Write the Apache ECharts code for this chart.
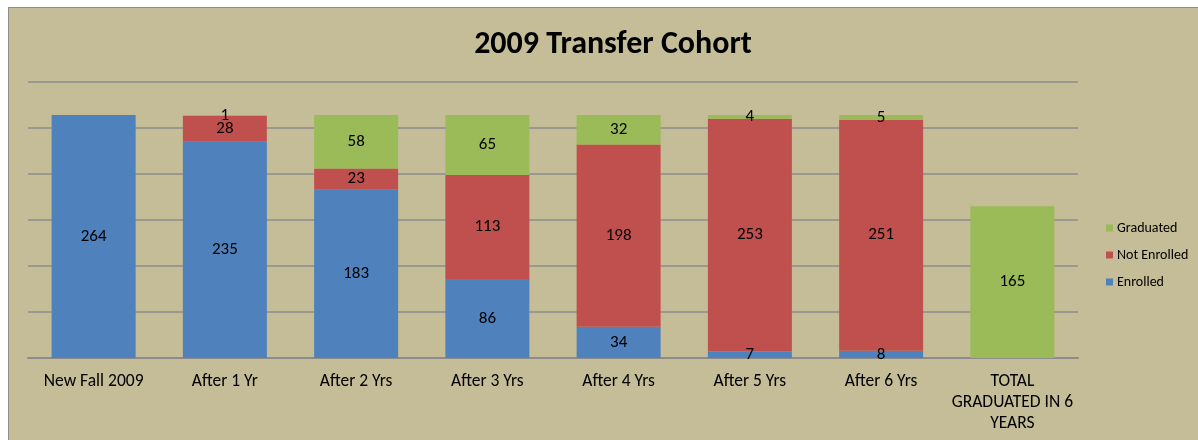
<!DOCTYPE html>
<html>
<head>
<meta charset="utf-8">
<script src="https://cdn.jsdelivr.net/npm/echarts@6/dist/echarts.min.js"></script>
<style>
  html, body { margin: 0; padding: 0; background: #ffffff; overflow: hidden; }
  #main {
    position: absolute;
    left: 8px;
    top: 7px;
    width: 1200px;
    height: 440px;
    border: 1px solid #8c8c8c;
    background: #c4bd97;
  }
</style>
</head>
<body>
<div id="main"></div>
<script>
var categories = ["New Fall 2009", "After 1 Yr", "After 2 Yrs", "After 3 Yrs", "After 4 Yrs", "After 5 Yrs", "After 6 Yrs", "TOTAL\nGRADUATED IN 6\nYEARS"];
var enrolled = [264, 235, 183, 86, 34, 7, 8, 0];
var notEnrolled = [0, 28, 23, 113, 198, 253, 251, 0];
var graduated = [0, 1, 58, 65, 32, 4, 5, 165];

var font = 'Carlito, "Open Sans", sans-serif';

function lbl(p) {
  return p.value ? p.value : "";
}

var chart = echarts.init(document.getElementById("main"));
var barStyle = {
  type: "bar",
  stack: "all",
  barWidth: "64%",
  label: {
    show: true,
    position: "inside",
    formatter: lbl,
    color: "#000000",
    fontFamily: font,
    fontSize: 17
  }
};

var option = {
  animation: false,
  title: {
    text: "2009 Transfer Cohort",
    left: 599,
    top: 16,
    textAlign: "center",
    textStyle: { fontFamily: font, fontSize: 32, fontWeight: "bold", color: "#000000" }
  },
  legend: {
    orient: "vertical",
    left: 1092,
    top: 208,
    itemWidth: 7,
    itemHeight: 7,
    itemGap: 13,
    icon: "rect",
    data: ["Graduated", "Not Enrolled", "Enrolled"],
    textStyle: { fontFamily: font, fontSize: 14, color: "#000000", padding: [0, 0, 0, -1] }
  },
  grid: { left: 19, top: 74, width: 1050, height: 276 },
  xAxis: {
    type: "category",
    data: categories,
    axisTick: { show: false },
    axisLine: { lineStyle: { color: "#8c8c8c", width: 2 } },
    axisLabel: { fontFamily: font, fontSize: 17.5, color: "#000000", margin: 13, lineHeight: 21, interval: 0 }
  },
  yAxis: {
    type: "value",
    min: 0,
    max: 300,
    interval: 50,
    axisLabel: { show: false },
    axisLine: { show: false },
    axisTick: { show: false },
    splitLine: { lineStyle: { color: "#8c8c8c", width: 1.5 } }
  },
  series: [
    Object.assign({}, barStyle, { name: "Enrolled", data: enrolled, itemStyle: { color: "#4f81bd" } }),
    Object.assign({}, barStyle, { name: "Not Enrolled", data: notEnrolled, itemStyle: { color: "#c0504d" } }),
    Object.assign({}, barStyle, { name: "Graduated", data: graduated, itemStyle: { color: "#9bbb59" } })
  ]
};
chart.setOption(option);
</script>
</body>
</html>
